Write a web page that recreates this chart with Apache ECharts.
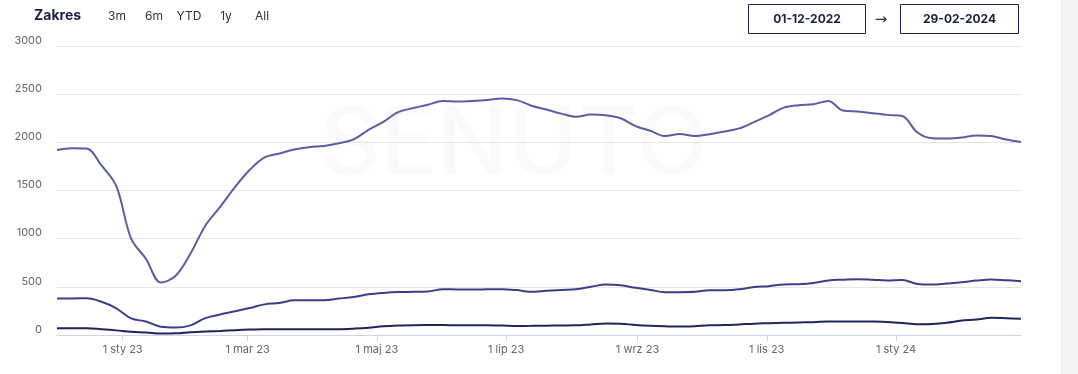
<!DOCTYPE html>
<html>
<head>
<meta charset="utf-8">
<script src="https://cdn.jsdelivr.net/npm/echarts@6/dist/echarts.min.js"></script>
<style>
html,body{margin:0;padding:0;background:#fff;}
#chart{width:1078px;height:374px;}
</style>
</head>
<body>
<div id="chart"></div>
<script>
const dates = [
'2022-12-01','2022-12-08','2022-12-15','2022-12-22','2022-12-29',
'2023-01-05','2023-01-12','2023-01-19','2023-01-26','2023-02-02',
'2023-02-09','2023-02-16','2023-02-23','2023-03-02','2023-03-09',
'2023-03-16','2023-03-23','2023-03-30','2023-04-06','2023-04-13',
'2023-04-20','2023-04-27','2023-05-04','2023-05-11','2023-05-18',
'2023-05-25','2023-06-01','2023-06-08','2023-06-15','2023-06-22',
'2023-06-29','2023-07-06','2023-07-13','2023-07-20','2023-07-27',
'2023-08-03','2023-08-10','2023-08-17','2023-08-24','2023-08-31',
'2023-09-07','2023-09-14','2023-09-21','2023-09-28','2023-10-05',
'2023-10-12','2023-10-19','2023-10-26','2023-11-02','2023-11-09',
'2023-11-16','2023-11-23','2023-11-30','2023-12-07','2023-12-14',
'2023-12-21','2023-12-28','2024-01-04','2024-01-11','2024-01-18',
'2024-01-25','2024-02-01','2024-02-08','2024-02-15','2024-02-22',
'2024-02-29'
];
const seriesTop = [
1921,1938,1935,1760,1545,1000,790,545,615,845,
1135,1330,1535,1715,1843,1885,1925,1950,1963,1990,
2030,2130,2213,2313,2355,2390,2430,2423,2430,2440,
2455,2438,2380,2340,2298,2265,2288,2280,2250,2170,
2120,2065,2087,2066,2085,2113,2145,2210,2280,2360,
2385,2395,2430,2330,2320,2303,2285,2273,2105,2043,
2040,2050,2072,2065,2030,2003
];
const seriesMid = [
378,380,381,345,277,172,140,85,77,100,
175,213,246,280,318,332,360,360,362,378,
395,422,437,446,448,451,476,473,472,474,
476,466,448,460,468,474,500,524,517,490,
468,445,445,448,464,465,475,498,507,525,
528,540,566,574,580,574,566,570,530,523,
535,548,565,577,568,559
];
const seriesLow = [
70,70,70,60,48,33,27,15,17,28,
36,42,50,56,59,59,59,59,59,60,
66,75,90,98,102,104,103,102,101,100,
98,94,95,97,98,100,110,120,118,104,
95,90,87,92,102,103,110,118,122,126,
130,133,140,141,140,140,135,125,112,115,
128,150,160,180,175,168
];
const tickDates = ['2023-01-01','2023-03-01','2023-05-01','2023-07-01','2023-09-01','2023-11-01','2024-01-01'];
const tickLabels = ['1 sty 23','1 mar 23','1 maj 23','1 lip 23','1 wrz 23','1 lis 23','1 sty 24'];
const rangeButtons = ['3m','6m','YTD','1y','All'];
const dateFrom = '01-12-2022';
const dateTo = '29-02-2024';

function ts(s){ const p = s.split('-').map(Number); return Date.UTC(p[0], p[1]-1, p[2]); }
const tickTs = tickDates.map(ts);
const labelMap = {};
tickTs.forEach((t,i)=>{ labelMap[t] = tickLabels[i]; });

const chart = echarts.init(document.getElementById('chart'), null, {renderer:'canvas'});
const FONT = 'Inter, "Open Sans", sans-serif';
const navy = '#1e1e4b';
const btnX = [117,154,189,226,262];

const graphics = [
  {type:'text', silent:true, z:0,
   style:{text:'SENUTO', x:514, y:146, align:'center', verticalAlign:'middle',
     font:'500 94px '+FONT, fill:'rgba(0,0,0,0.02)'}},
  {type:'text', style:{text:'Zakres', x:34, y:16, verticalAlign:'middle', font:'700 14px '+FONT, fill:navy}},
  {type:'rect', shape:{x:748.5,y:4.5,width:117,height:29}, style:{fill:'#fff', stroke:navy, lineWidth:1}},
  {type:'text', style:{text:dateFrom, x:807, y:19.5, align:'center', verticalAlign:'middle', font:'700 12px '+FONT, fill:navy}},
  {type:'text', style:{text:'\u2192', x:881, y:20, align:'center', verticalAlign:'middle', font:'15px "DejaVu Sans", sans-serif', fill:'#333'}},
  {type:'rect', shape:{x:900.5,y:4.5,width:118,height:29}, style:{fill:'#fff', stroke:navy, lineWidth:1}},
  {type:'text', style:{text:dateTo, x:959.5, y:19.5, align:'center', verticalAlign:'middle', font:'700 12px '+FONT, fill:navy}},
  {type:'rect', shape:{x:1062,y:0,width:16,height:374}, style:{fill:'#f4f4f5'}},
  {type:'rect', shape:{x:1061,y:0,width:1,height:374}, style:{fill:'#ececee'}}
];
rangeButtons.forEach((b,i)=>{
  graphics.push({type:'text', style:{text:b, x:btnX[i], y:16, align:'center', verticalAlign:'middle', font:'12px '+FONT, fill:'#333'}});
});

const mk = (arr)=> dates.map((d,i)=>[ts(d), arr[i]]);
const lineSeries = (name, arr, color, z) => ({
  name, type:'line', data: mk(arr), smooth:0.35, showSymbol:false, symbol:'none',
  lineStyle:{color, width:2}, itemStyle:{color}, z, animation:false
});

chart.setOption({
  animation:false,
  grid:{left:57, right:57, top:46, bottom:39, containLabel:false},
  xAxis:{
    type:'value', min:ts('2022-12-01'), max:ts('2024-02-29'),
    axisLine:{show:true, lineStyle:{color:'#ccd6eb', width:1}},
    axisTick:{show:true, length:6, lineStyle:{color:'#ccd6eb'}, customValues: tickTs},
    axisLabel:{customValues: tickTs, color:'#666', fontSize:11, fontFamily:FONT, margin:9,
      formatter:(v)=> labelMap[v] || ''},
    splitLine:{show:false}
  },
  yAxis:{
    type:'value', min:0, max:3000, interval:500,
    axisLine:{show:false}, axisTick:{show:false},
    axisLabel:{color:'#666', fontSize:11, fontFamily:FONT, margin:15,
      verticalAlign:'bottom', formatter:(v)=> String(v)},
    splitLine:{lineStyle:{color:'#e6e6e6', width:1}}
  },
  series:[
    lineSeries('top', seriesTop, '#5a5da3', 3),
    lineSeries('mid', seriesMid, '#3c3e88', 4),
    lineSeries('low', seriesLow, '#22225c', 5)
  ],
  graphic: graphics
});
</script>
</body>
</html>
